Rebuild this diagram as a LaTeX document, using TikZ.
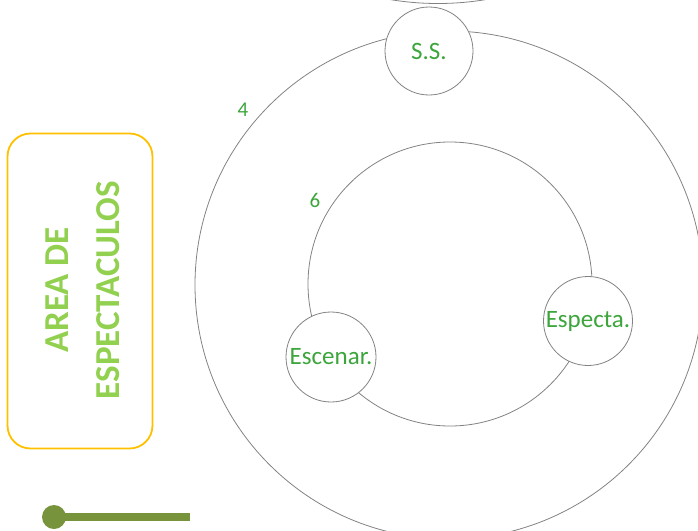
\documentclass[tikz,border=0pt]{standalone}
\usepackage{fontspec}
\setmainfont{Carlito}
\definecolor{ringgray}{RGB}{130,130,130}
\definecolor{labelgreen}{RGB}{60,165,60}
\definecolor{titlegreen}{RGB}{146,208,80}
\definecolor{boxorange}{RGB}{255,192,0}
\definecolor{olivebar}{RGB}{119,147,60}
\begin{document}
\begin{tikzpicture}[x=1pt,y=-1pt,
  ring/.style={draw=ringgray, line width=0.8pt, circle, inner sep=0pt},
  station/.style={ring, fill=white, minimum size=90pt, text=labelgreen, font=\fontsize{25}{28}\selectfont},
  num/.style={text=labelgreen, font=\fontsize{21}{24}\selectfont, inner sep=0pt}]
\useasboundingbox (0,0) rectangle (698,530);
\begin{scope}
\clip (0,0) rectangle (698,530);
\node[ring, minimum size=580pt] (topring) at (438,-286.5) {};
\node[ring, minimum size=508pt] (outer) at (449,285) {};
\node[ring, minimum size=284pt] (inner) at (450,284) {};
\end{scope}
\node[station, minimum size=88pt] (ss) at (429,51) {S.S.};
\node[station] (escenar) at (331,357) {Escenar.};
\node[station, minimum size=89pt] (especta) at (588,321) {Especta.};
\node[num] (n4) at (243,110) {4};
\node[num] (n6) at (315,200) {6};
\node[draw=boxorange, line width=1.8pt, rounded corners=23pt, minimum width=145pt, minimum height=315pt] (box) at (80,291) {};
\node[rotate=90, text=titlegreen, font=\bfseries\fontsize{35}{51}\selectfont, align=center, inner sep=0pt] (title) at (83,290) {AREA DE\\ESPECTACULOS};
\node[circle, fill=olivebar, minimum size=24pt, inner sep=0pt] (dot) at (54,517) {};
\coordinate (barend) at (190,517);
\draw[olivebar, line width=8pt] (dot.center) -- (barend);
\end{tikzpicture}
\end{document}
